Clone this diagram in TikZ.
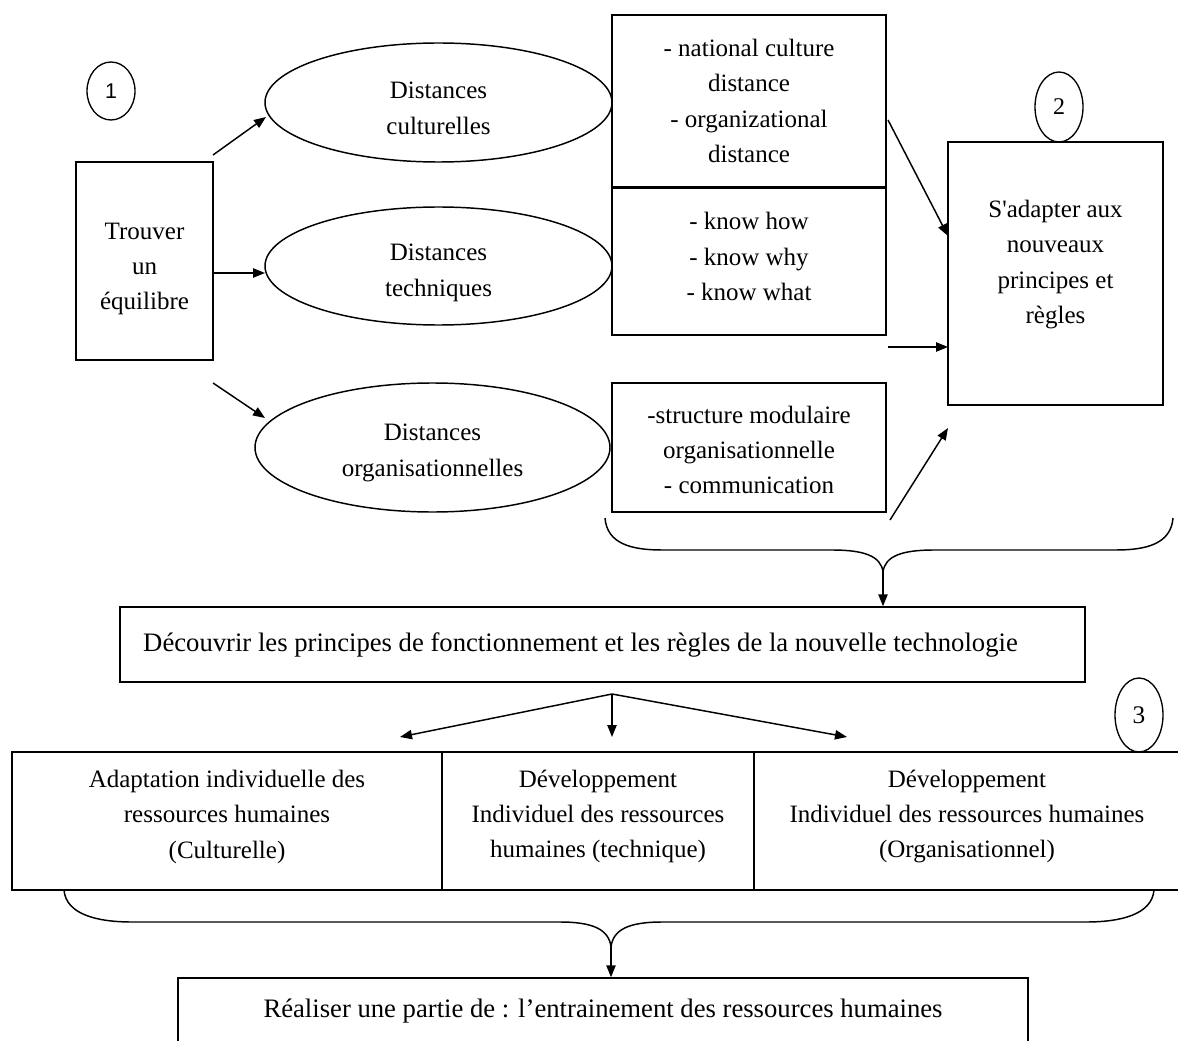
\documentclass[tikz,border=0pt]{standalone}
\usepackage{fontspec}
\setmainfont{Liberation Serif}
\newfontfamily\digitsans{Liberation Sans}
\usetikzlibrary{shapes.geometric,arrows.meta,calc}
\newcommand\ltxt[2]{\raisebox{#1}[\height][\depth]{\begin{tabular}{@{}c@{}}#2\end{tabular}}}
\begin{document}
\begin{tikzpicture}[x=0.75pt,y=-0.75pt,
  line width=1.1pt,
  txt/.style={font=\fontsize{18.75}{26.5}\selectfont, align=center},
  box/.style={draw, txt, inner sep=0pt},
  oval/.style={draw, ellipse, txt, inner sep=0pt},
  numc/.style={draw, ellipse, inner sep=0pt, line width=1pt},
  arr/.style={-{Triangle[length=9pt,width=7pt]}},
  brace/.style={line width=1.1pt}
]
\useasboundingbox (0,0) rectangle (1178,1041);
\clip (0,0) rectangle (1178,1041);

% number marks
\node[numc, minimum width=36pt, minimum height=43.5pt, font=\digitsans\fontsize{16}{16}\selectfont] (n1) at (111,91) {1};
\node[numc, minimum width=36pt, minimum height=52.5pt, font=\fontsize{18}{18}\selectfont] (n2) at (1059,107) {2};
\node[numc, minimum width=36pt, minimum height=55.5pt, font=\fontsize{19}{19}\selectfont] (n3) at (1139,715) {3};

% left box
\node[box, minimum width=102.75pt, minimum height=148.5pt] (trouver) at (144.5,261) {\ltxt{-4.9pt}{Trouver\\un\\équilibre}};

% ellipses
\node[oval, minimum width=260.25pt, minimum height=89.25pt] (cult) at (438.5,102.5) {\ltxt{-5.2pt}{Distances\\culturelles}};
\node[oval, minimum width=260.25pt, minimum height=88.5pt] (tech) at (438.5,266) {\ltxt{-4pt}{Distances\\techniques}};
\node[oval, minimum width=266.25pt, minimum height=96.75pt] (org) at (432.5,447.5) {\ltxt{-2.9pt}{Distances\\organisationnelles}};

% detail boxes
\node[box, minimum width=205.5pt, minimum height=129pt] (bA) at (749,101) {\ltxt{-1.1pt}{- national culture\\distance\\- organizational\\distance}};
\node[box, minimum width=205.5pt, minimum height=111pt] (bB) at (749,261) {\ltxt{2.2pt}{- know how\\- know why\\- know what}};
\draw[line width=2.4pt] (bA.south west) -- (bA.south east);
\node[box, minimum width=205.5pt, minimum height=96.75pt] (bC) at (749,447.5) {\ltxt{-2.9pt}{-structure modulaire\\organisationnelle\\- communication}};

% right box
\node[box, minimum width=161.25pt, minimum height=197.25pt] (adapt) at (1055.5,273.5) {\ltxt{7.6pt}{S\textquotesingle adapter aux\\nouveaux\\principes et\\règles}};

% discover box
\node[box, minimum width=723.75pt, minimum height=56.25pt, font=\fontsize{20}{26.5}\selectfont] (disc) at (602.5,644.5) {Découvrir les principes de fonctionnement et les règles de la nouvelle technologie\hspace*{33pt}};

% row of three
\node[box, minimum width=322.5pt, minimum height=103.5pt] (r1) at (227,821) {\ltxt{3.9pt}{Adaptation individuelle des\\ressources humaines\\(Culturelle)}};
\node[box, minimum width=234pt, minimum height=103.5pt] (r2) at (598,821) {\ltxt{4.3pt}{Développement\\Individuel des ressources\\humaines (technique)}};
\node[box, minimum width=319.5pt, minimum height=103.5pt] (r3) at (967,821) {\ltxt{4.3pt}{Développement\\Individuel des ressources humaines\\(Organisationnel)}};

% final box
\node[box, minimum width=637.5pt, minimum height=49.5pt, font=\fontsize{20}{26.5}\selectfont] (real) at (603,1011) {Réaliser une partie de : l’entrainement des ressources humaines};

% arrows top part
\coordinate (a1s) at (213,155); \coordinate (a1e) at (266,117);
\coordinate (a2s) at (213,273); \coordinate (a2e) at (265,273);
\coordinate (a3s) at (213,383); \coordinate (a3e) at (265,418);
\coordinate (a4s) at (888,120); \coordinate (a4e) at (948,236);
\coordinate (a5s) at (888,347); \coordinate (a5e) at (948,347);
\coordinate (a6s) at (890,520); \coordinate (a6e) at (948,428);
\draw[arr] (a1s) -- (a1e);
\draw[arr] (a2s) -- (a2e);
\draw[arr] (a3s) -- (a3e);
\draw[arr] (a4s) -- (a4e);
\draw[arr] (a5s) -- (a5e);
\draw[arr] (a6s) -- (a6e);

% top brace
\coordinate (b1) at (883,572);
\draw[brace] (605,518) .. controls (607,544) and (632,550) .. (662,550) -- (832,550) .. controls (864,550) and (881,556) .. (b1);
\draw[brace] (1173,518) .. controls (1171,544) and (1146,550) .. (1116,550) -- (934,550) .. controls (902,550) and (885,556) .. (b1);
\draw[arr] (b1) -- (b1 |- disc.north);

% three arrows
\coordinate (ap) at (612,694);
\coordinate (t1) at (400,737);
\coordinate (t2) at (612,737);
\coordinate (t3) at (847,737);
\draw[arr] (ap) -- (t1);
\draw[arr] (ap) -- (t2);
\draw[arr] (ap) -- (t3);

% bottom brace
\coordinate (b2) at (611,947);
\draw[brace] (64,890) .. controls (66,914) and (96,922) .. (132,922) -- (560,922) .. controls (594,922) and (609,930) .. (b2);
\draw[brace] (1154,890) .. controls (1152,914) and (1122,922) .. (1086,922) -- (662,922) .. controls (628,922) and (613,930) .. (b2);
\draw[arr] (b2) -- (b2 |- real.north);
\end{tikzpicture}
\end{document}
